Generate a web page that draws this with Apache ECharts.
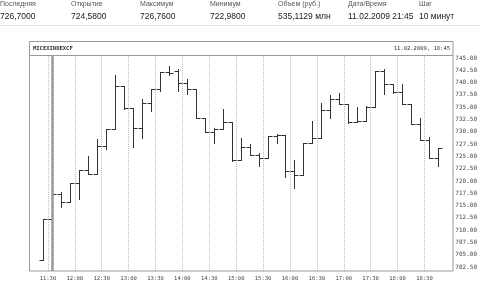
<!DOCTYPE html>
<html><head><meta charset="utf-8">
<script src="https://cdn.jsdelivr.net/npm/echarts@6/dist/echarts.min.js"></script>
<style>html,body{margin:0;padding:0;background:#fff}#c{width:480px;height:282px}</style>
</head><body><div id="c"></div>
<script>
// 10-minute bars (start time of each bar)
const times = ['11:20','11:30','11:40','11:50','12:00','12:10','12:20','12:30','12:40','12:50',
  '13:00','13:10','13:20','13:30','13:40','13:50','14:00','14:10','14:20','14:30',
  '14:40','14:50','15:00','15:10','15:20','15:30','15:40','15:50','16:00','16:10',
  '16:20','16:30','16:40','16:50','17:00','17:10','17:20','17:30','17:40','17:50',
  '18:00','18:10','18:20','18:30','18:40'];
const opens  = [703.9,712.3,717.4,715.8,719.6,722.2,721.4,727.1,730.6,739.4,
  734.8,730.7,735.8,738.8,742.2,742.4,740.0,738.6,732.9,730.0,
  730.5,732.0,724.3,727.0,725.2,724.7,729.1,729.3,722.0,721.2,
  727.8,728.8,734.4,736.6,735.6,731.9,732.2,735.1,742.4,739.7,
  738.1,735.7,731.6,728.3,724.58];
const highs  = [712.3,717.6,717.8,719.6,722.2,725.1,728.5,730.6,741.5,739.4,
  734.8,736.6,738.8,742.2,743.4,742.7,740.7,738.6,732.9,730.8,
  734.6,732.0,728.8,727.5,725.7,729.1,729.6,729.3,724.3,727.8,
  732.2,735.9,737.4,737.8,735.6,735.0,735.2,742.4,742.8,739.7,
  739.7,735.7,732.9,728.9,726.76];
const lows   = [703.9,712.0,714.8,715.8,716.4,721.4,721.4,726.4,730.6,734.6,
  727.0,728.8,734.2,738.2,741.5,738.3,737.6,732.9,730.0,727.7,
  730.5,724.1,724.3,725.2,723.0,724.7,727.7,720.9,718.6,721.2,
  727.8,728.8,732.9,735.6,731.8,731.9,732.2,735.1,737.6,737.8,
  735.6,731.6,728.3,724.6,722.98];
const closes = [712.3,717.4,715.8,719.6,722.2,721.4,727.1,730.6,739.4,734.8,
  730.7,735.8,738.8,742.2,741.9,740.0,738.6,732.9,730.0,730.5,
  732.0,724.3,727.0,725.2,724.7,729.1,729.3,722.0,721.2,727.8,
  728.8,734.4,736.7,735.6,731.9,732.2,735.1,742.4,739.7,738.1,
  735.7,731.6,728.3,724.6,726.70];
const xTickLabels = ['11:30','12:00','12:30','13:00','13:30','14:00','14:30','15:00',
  '15:30','16:00','16:30','17:00','17:30','18:00','18:30'];
const yTickLabels = ['702.50','705.00','707.50','710.00','712.50','715.00','717.50','720.00','722.50',
  '725.00','727.50','730.00','732.50','735.00','737.50','740.00','742.50','745.00'];
const headerLabels = ['Последняя','Открытие','Максимум','Минимум','Объем (руб.)','Дата/Время','Шаг'];
const headerValues = ['726,7000','724,5800','726,7600','722,9800','535,1129 млн','11.02.2009 21:45','10 минут'];
const instrument = 'MICEXINDEXCF';
const stamp = '11.02.2009, 18:45';
const markerBar = '11:30';

const toMin = s => { const [h,m] = s.split(':').map(Number); return h*60+m; };
const fmt = v => { const h = Math.floor(v/60), m = Math.round(v%60); return (h<10?'0':'')+h+':'+(m<10?'0':'')+m; };

const data = times.map((t,i)=>[toMin(t)+5, opens[i], highs[i], lows[i], closes[i]]);
const colX = [0,71,140,210,278,348,419];
const mono = 'DejaVu Sans Mono';

const graphic = [];
headerLabels.forEach((t,i)=>graphic.push({type:'text', left:colX[i], top:1, style:{text:t, fontSize:7, fontFamily:'Liberation Sans', fill:'#555'}}));
headerValues.forEach((t,i)=>graphic.push({type:'text', left:colX[i], top:12.5, style:{text:t, fontSize:8.5, fontFamily:'Liberation Sans', fill:'#222'}}));
graphic.push({type:'line', shape:{x1:0,y1:25.5,x2:480,y2:25.5}, style:{stroke:'#e4e4e4', lineWidth:1}});
graphic.push({type:'rect', shape:{x:29.5,y:41.5,width:423.5,height:229.5}, style:{fill:'none', stroke:'#999', lineWidth:1}, z:10});
graphic.push({type:'line', shape:{x1:29.5,y1:55.5,x2:453,y2:55.5}, style:{stroke:'#999', lineWidth:1}, z:10});
graphic.push({type:'text', left:33, top:45.5, style:{text:instrument, fontSize:5.5, fontFamily:mono, fontWeight:'bold', fill:'#333'}});
graphic.push({type:'text', right:30, top:45.5, style:{text:stamp, fontSize:5.5, fontFamily:mono, fill:'#333'}});

const chart = echarts.init(document.getElementById('c'), null, {renderer:'canvas'});
chart.setOption({
  animation:false,
  backgroundColor:'#fff',
  graphic,
  grid:{left:30, right:27, top:56, bottom:11},
  xAxis:{type:'value', min:toMin(times[0])-10, max:toMin(times[times.length-1])+20,
    axisLine:{show:false},
    axisTick:{show:false, customValues:xTickLabels.map(toMin)},
    axisLabel:{customValues:xTickLabels.map(toMin), formatter:fmt, fontSize:5.5, fontFamily:mono, color:'#444', margin:5},
    splitLine:{show:true, lineStyle:{type:'dotted', color:'#bbb', width:1}}},
  yAxis:{type:'value', position:'right', min:701.69, max:745.41, scale:true,
    axisLine:{show:false}, axisTick:{show:false, customValues:yTickLabels.map(Number)},
    axisLabel:{customValues:yTickLabels.map(Number), formatter:v=>v.toFixed(2), fontSize:6, fontFamily:mono, color:'#444', margin:4},
    splitLine:{show:false}},
  series:[{
    type:'custom',
    data,
    encode:{x:0, y:[1,2,3,4]},
    renderItem(params, api){
      const x = api.value(0);
      const pO = api.coord([x, api.value(1)]);
      const pH = api.coord([x, api.value(2)]);
      const pL = api.coord([x, api.value(3)]);
      const pC = api.coord([x, api.value(4)]);
      const cx = Math.round(pO[0]) + 0.5;
      const w = 4;
      const st = {stroke:'#333', lineWidth:1};
      const yo = Math.round(pO[1]) + 0.5, yc = Math.round(pC[1]) + 0.5;
      return {type:'group', children:[
        {type:'line', shape:{x1:cx, y1:Math.round(pH[1]), x2:cx, y2:Math.round(pL[1])+1}, style:st},
        {type:'line', shape:{x1:cx-w, y1:yo, x2:cx, y2:yo}, style:st},
        {type:'line', shape:{x1:cx, y1:yc, x2:cx+w, y2:yc}, style:st}
      ]};
    },
    markLine:{silent:true, symbol:'none', label:{show:false},
      lineStyle:{color:'#999', width:2.5, type:'solid'},
      data:[{xAxis:toMin(markerBar)+5}]}
  }]
});
</script></body></html>
